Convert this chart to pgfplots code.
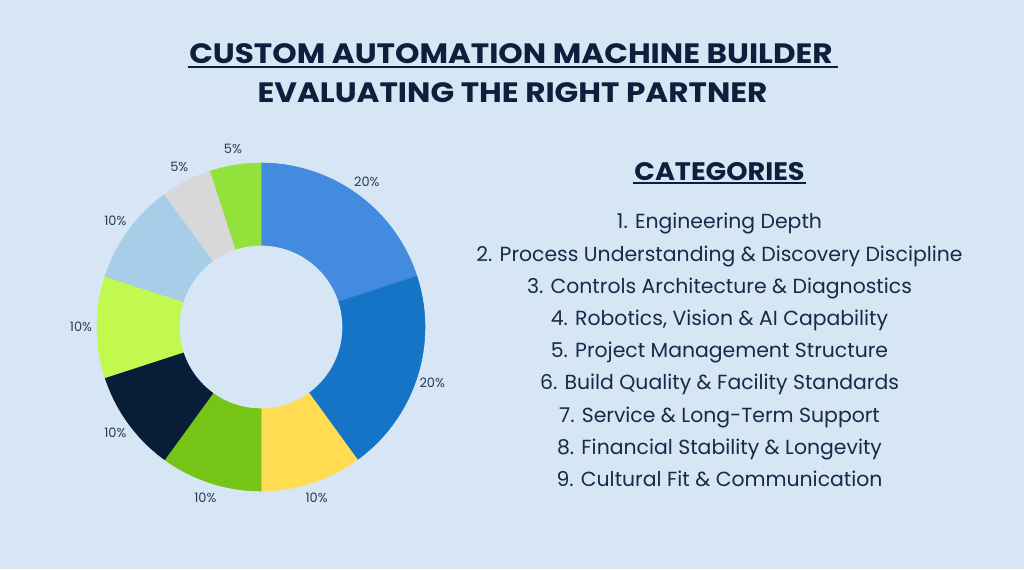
\documentclass[border=0pt]{standalone}
\usepackage{pgfplots}
\pgfplotsset{compat=1.18}
\usepackage{pgfplotstable}
\usepackage{fontspec}
\setmainfont{Poppins}
\newfontfamily\titlefont[FakeStretch=1.11]{Poppins}
\newfontfamily\catfont[FakeStretch=1.07]{Poppins}
\definecolor{bg}{HTML}{D6E6F4}
\definecolor{ink}{HTML}{0C1F3C}
\definecolor{txt}{HTML}{18294A}
\definecolor{pct}{HTML}{2C3B55}
\definecolor{s1}{HTML}{428BDF}
\definecolor{s2}{HTML}{1674C6}
\definecolor{s3}{HTML}{FFDC52}
\definecolor{s4}{HTML}{76C516}
\definecolor{s5}{HTML}{071D38}
\definecolor{s6}{HTML}{C1F94E}
\definecolor{s7}{HTML}{A8CDE8}
\definecolor{s8}{HTML}{D8D8D8}
\definecolor{s9}{HTML}{93E23C}

\pgfplotstableread{
value col
20 s1
20 s2
10 s3
10 s4
10 s5
10 s6
10 s7
5 s8
5 s9
}\slices

\begin{document}
\begin{tikzpicture}
\begin{axis}[
  x=0.75pt, y=0.75pt,
  xmin=0, xmax=1024, ymin=0, ymax=569,
  hide axis, clip=false,
]
\fill[bg] (axis cs:0,0) rectangle (axis cs:1024,569);
\def\cum{0}
\pgfplotsforeachungrouped \i in {0,...,8}{%
  \pgfplotstablegetelem{\i}{value}\of\slices \let\slval\pgfplotsretval
  \pgfplotstablegetelem{\i}{col}\of\slices \let\slcol\pgfplotsretval
  \pgfmathsetmacro\sa{90-3.6*\cum}%
  \pgfmathsetmacro\sb{90-3.6*(\cum+\slval)}%
  \pgfmathsetmacro\sm{(\sa+\sb)/2}%
  \pgfmathsetmacro\cum{\cum+\slval}%
  \edef\cmd{%
    \noexpand\fill[fill=\slcol,draw=\slcol,line width=0.4pt] (axis cs:261,242) -- ++(\sa:123pt) arc[start angle=\sa,end angle=\sb,radius=123pt] -- cycle;
    \noexpand\path (axis cs:261,242) ++(\sm:135pt) node[font=\noexpand\fontsize{9.7}{11}\noexpand\selectfont,text=pct] {\slval\noexpand\%};
  }%
  \cmd
}
\fill[bg] (axis cs:261,242) circle[radius=61pt];

% title
\node[anchor=base,font=\titlefont\fontsize{21}{24}\selectfont\bfseries,text=ink] (t1) at (axis cs:511,505) {CUSTOM AUTOMATION MACHINE BUILDER};
\draw[ink,line width=1.5pt] (axis cs:188,502) -- (axis cs:838,502);
\node[anchor=base,font=\titlefont\fontsize{21}{24}\selectfont\bfseries,text=ink] at (axis cs:512.5,466) {EVALUATING THE RIGHT PARTNER};

% categories
\node[anchor=base,font=\catfont\fontsize{19}{22}\selectfont\bfseries,text=ink] at (axis cs:719.5,389) {CATEGORIES};
\draw[ink,line width=1.5pt] (axis cs:633,386) -- (axis cs:806,386);
\foreach \itm [count=\k from 0] in {
  1. Engineering Depth,
  2. Process Understanding \& Discovery Discipline,
  3. Controls Architecture \& Diagnostics,
  {4. Robotics, Vision \& AI Capability},
  5. Project Management Structure,
  6. Build Quality \& Facility Standards,
  7. Service \& Long-Term Support,
  8. Financial Stability \& Longevity,
  9. Cultural Fit \& Communication}{
  \pgfmathsetmacro\yy{340.1-32.2*\k}
  \edef\cmd{\noexpand\node[anchor=base,font=\noexpand\fontsize{15.3}{18}\noexpand\selectfont,text=txt] at (axis cs:719.5,\yy) {\itm};}
  \cmd
}
\end{axis}
\end{tikzpicture}
\end{document}
